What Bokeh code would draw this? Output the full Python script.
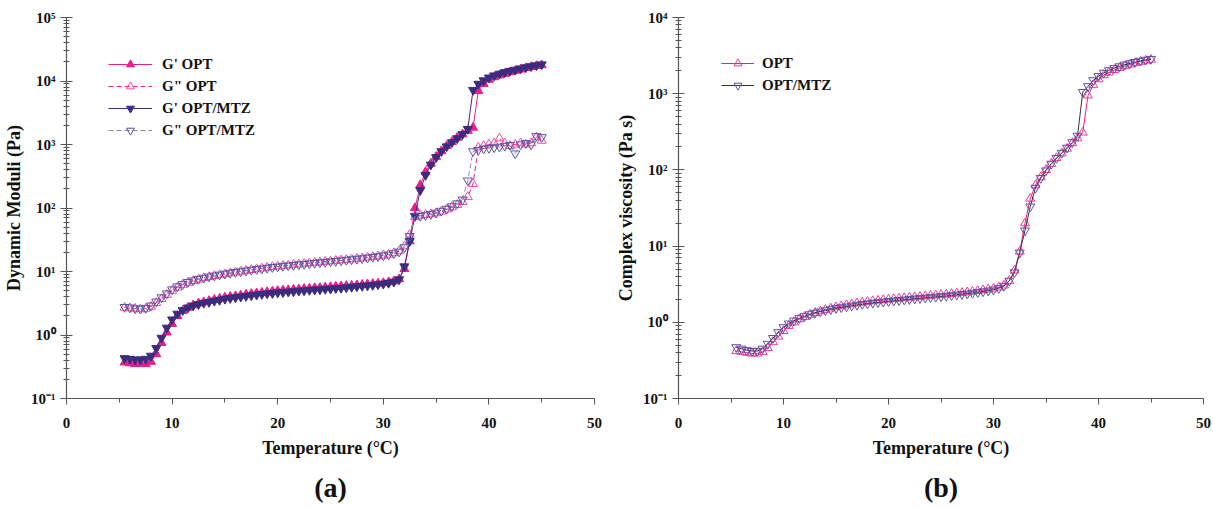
from bokeh.plotting import figure
from bokeh.layouts import row
from bokeh.models import Range1d, FixedTicker, Legend, LegendItem, Title
from bokeh.embed import file_html
from bokeh.resources import INLINE

# ---------------- data ----------------
temperature = [
    5.5, 6.0, 6.5, 7.0, 7.5, 8.0, 8.5, 9.0, 9.5, 10.0,
    10.5, 11.0, 11.5, 12.0, 12.5, 13.0, 13.5, 14.0, 14.5, 15.0,
    15.5, 16.0, 16.5, 17.0, 17.5, 18.0, 18.5, 19.0, 19.5, 20.0,
    20.5, 21.0, 21.5, 22.0, 22.5, 23.0, 23.5, 24.0, 24.5, 25.0,
    25.5, 26.0, 26.5, 27.0, 27.5, 28.0, 28.5, 29.0, 29.5, 30.0,
    30.5, 31.0, 31.5, 32.0, 32.5, 33.0, 33.5, 34.0, 34.5, 35.0,
    35.5, 36.0, 36.5, 37.0, 37.5, 38.0, 38.5, 39.0, 39.5, 40.0,
    40.5, 41.0, 41.5, 42.0, 42.5, 43.0, 43.5, 44.0, 44.5, 45.0,
]

g1_opt = [
    0.37, 0.36, 0.35, 0.35, 0.35, 0.38, 0.50, 0.75, 1.10, 1.50,
    2.00, 2.40, 2.70, 2.95, 3.15, 3.30, 3.45, 3.60, 3.75, 3.90,
    4.00, 4.10, 4.20, 4.35, 4.45, 4.55, 4.65, 4.75, 4.85, 4.95,
    5.05, 5.10, 5.20, 5.25, 5.35, 5.40, 5.50, 5.55, 5.65, 5.70,
    5.80, 5.85, 5.95, 6.00, 6.10, 6.20, 6.30, 6.40, 6.50, 6.60,
    6.80, 7.00, 7.60, 11.0, 30.0, 100, 230, 370, 500, 640,
    790, 950, 1100, 1280, 1450, 1650, 1850, 7000, 9000, 10500,
    11500, 12300, 13000, 13800, 14500, 15200, 16000, 16700, 17300, 17800,
]

g1_mtz = [
    0.43, 0.42, 0.41, 0.41, 0.42, 0.47, 0.62, 0.90, 1.30, 1.75,
    2.15, 2.45, 2.70, 2.90, 3.05, 3.20, 3.30, 3.45, 3.55, 3.70,
    3.80, 3.90, 4.00, 4.10, 4.20, 4.30, 4.40, 4.50, 4.55, 4.65,
    4.70, 4.80, 4.85, 4.95, 5.00, 5.10, 5.15, 5.20, 5.30, 5.35,
    5.45, 5.50, 5.60, 5.70, 5.80, 5.90, 6.00, 6.10, 6.25, 6.40,
    6.60, 6.90, 7.50, 12.0, 30.0, 75, 190, 330, 480, 630,
    780, 930, 1080, 1250, 1450, 1750, 7200, 9000, 10200, 11300,
    12200, 13000, 13700, 14400, 15000, 15700, 16400, 17000, 17600, 18200,
]

g2_opt = [
    2.70, 2.65, 2.60, 2.55, 2.60, 2.80, 3.20, 3.70, 4.30, 5.00,
    5.60, 6.20, 6.70, 7.10, 7.50, 7.90, 8.20, 8.50, 8.80, 9.10,
    9.40, 9.70, 10.0, 10.3, 10.6, 10.9, 11.2, 11.5, 11.8, 12.0,
    12.3, 12.5, 12.8, 13.0, 13.3, 13.5, 13.8, 14.0, 14.3, 14.5,
    14.8, 15.0, 15.3, 15.6, 15.9, 16.2, 16.6, 17.0, 17.4, 17.9,
    18.5, 19.5, 21.0, 25.0, 38.0, 72, 76, 78, 80, 83,
    88, 95, 103, 112, 125, 150, 240, 900, 950, 1000,
    1050, 1250, 1050, 950, 1000, 1050, 1000, 1050, 1300, 1150,
]

g2_mtz = [
    2.75, 2.70, 2.62, 2.58, 2.65, 2.90, 3.35, 3.90, 4.50, 5.20,
    5.80, 6.30, 6.80, 7.20, 7.60, 7.95, 8.30, 8.60, 8.90, 9.20,
    9.50, 9.80, 10.0, 10.3, 10.6, 10.9, 11.1, 11.4, 11.7, 11.9,
    12.2, 12.4, 12.6, 12.9, 13.1, 13.4, 13.6, 13.9, 14.1, 14.4,
    14.6, 14.9, 15.2, 15.5, 15.8, 16.1, 16.5, 16.9, 17.3, 17.8,
    18.4, 19.3, 20.5, 24.0, 36.0, 74, 75, 77, 80, 84,
    90, 97, 106, 118, 135, 270, 780, 820, 860, 880,
    900, 920, 950, 980, 720, 1000, 1050, 1000, 1350, 1300,
]

eta_opt = [
    0.42, 0.41, 0.40, 0.39, 0.39, 0.41, 0.46, 0.55, 0.65, 0.77,
    0.90, 1.00, 1.10, 1.18, 1.26, 1.33, 1.40, 1.46, 1.52, 1.58,
    1.63, 1.68, 1.73, 1.78, 1.82, 1.86, 1.90, 1.93, 1.96, 1.99,
    2.02, 2.05, 2.08, 2.11, 2.14, 2.17, 2.20, 2.23, 2.26, 2.29,
    2.32, 2.36, 2.40, 2.44, 2.48, 2.53, 2.58, 2.64, 2.70, 2.78,
    2.88, 3.05, 3.50, 4.80, 8.50, 20.0, 42.0, 63.0, 80.0, 100,
    120, 143, 165, 190, 225, 260, 310, 950, 1300, 1550,
    1750, 1900, 2050, 2180, 2300, 2420, 2530, 2630, 2720, 2800,
]

eta_mtz = [
    0.47, 0.45, 0.43, 0.42, 0.42, 0.45, 0.52, 0.62, 0.74, 0.86,
    0.96, 1.05, 1.13, 1.20, 1.27, 1.33, 1.38, 1.43, 1.48, 1.53,
    1.57, 1.61, 1.65, 1.69, 1.73, 1.76, 1.80, 1.83, 1.86, 1.89,
    1.92, 1.95, 1.98, 2.01, 2.04, 2.07, 2.10, 2.13, 2.16, 2.19,
    2.22, 2.26, 2.30, 2.34, 2.38, 2.43, 2.48, 2.54, 2.60, 2.68,
    2.80, 3.00, 3.50, 4.50, 8.20, 16.0, 33.0, 58.0, 78.0, 98.0,
    120, 143, 167, 195, 230, 280, 1050, 1250, 1500, 1700,
    1880, 2030, 2160, 2280, 2400, 2500, 2600, 2700, 2780, 2850,
]

x_ticks = [0, 10, 20, 30, 40, 50]
x_minor = [5, 15, 25, 35, 45]
labels_a = ["G' OPT", 'G" OPT', "G' OPT/MTZ", 'G" OPT/MTZ']
labels_b = ["OPT", "OPT/MTZ"]

SUP = {"-": "\u207b", "0": "\u2070", "1": "\u00b9", "2": "\u00b2", "3": "\u00b3",
       "4": "\u2074", "5": "\u2075"}

FONT = "Liberation Serif"
PINK = "#E91E8C"
NAVY = "#3B2C7E"
NAVY_OPEN = "#5E52A4"
LAV_LINE = "#8E86BC"
AXIS = "#555555"
MS = 9


def pow_label(e):
    return "10" + "".join(SUP[c] for c in str(e))


def style(p, exps, ylabel):
    p.outline_line_color = None
    p.grid.visible = False
    p.background_fill_color = "white"
    p.border_fill_color = "white"
    xa = p.xaxis[0]
    xa.ticker = FixedTicker(ticks=x_ticks, minor_ticks=x_minor)
    xa.axis_label = "Temperature (\u00b0C)"
    ya = p.yaxis[0]
    majors = [10.0 ** e for e in exps]
    minors = [k * 10.0 ** e for e in exps[:-1] for k in range(2, 10)]
    ya.ticker = FixedTicker(ticks=majors, minor_ticks=minors)
    ya.major_label_overrides = {10.0 ** e: pow_label(e) for e in exps}
    ya.axis_label = ylabel
    for ax in (xa, ya):
        ax.axis_line_color = AXIS
        ax.axis_line_width = 1.2
        ax.major_tick_line_color = AXIS
        ax.minor_tick_line_color = AXIS
        ax.major_label_text_font = FONT
        ax.major_label_text_font_style = "bold"
        ax.major_label_text_font_size = "15px"
        ax.major_label_text_color = "#111111"
        ax.axis_label_text_font = FONT
        ax.axis_label_text_font_style = "bold"
        ax.axis_label_text_font_size = "18px"
        ax.axis_label_text_color = "#111111"
    xa.major_tick_in = 0
    xa.major_tick_out = 6
    xa.minor_tick_in = 0
    xa.minor_tick_out = 4
    xa.major_label_standoff = 13
    xa.axis_label_standoff = 7
    ya.major_tick_in = 6
    ya.major_tick_out = 6
    ya.minor_tick_in = 3
    ya.minor_tick_out = 3
    ya.major_label_standoff = 5
    ya.axis_label_standoff = 4


def caption(p, text):
    t = Title(text=text, align="center", text_font=FONT, text_font_style="bold",
              text_font_size="28px", text_color="#111111", standoff=18)
    p.add_layout(t, "below")


# ---------------- panel (a) ----------------
pa = figure(frame_width=528, frame_height=381, output_backend="svg", toolbar_location=None,
            x_range=Range1d(0, 50), y_range=Range1d(0.1, 1e5), y_axis_type="log",
            min_border_left=66, min_border_right=19, min_border_top=17, min_border_bottom=109)
style(pa, [-1, 0, 1, 2, 3, 4, 5], "Dynamic Moduli (Pa)")

la1 = pa.line(temperature, g1_opt, line_color=PINK, line_width=1)
sa1 = pa.scatter(temperature, g1_opt, marker="triangle", size=MS, fill_color=PINK, line_color=PINK)
la2 = pa.line(temperature, g2_opt, line_color=PINK, line_width=1, line_dash="5 3")
sa2 = pa.scatter(temperature, g2_opt, marker="triangle", size=MS, fill_color=None, line_color="#F0509E")
la3 = pa.line(temperature, g1_mtz, line_color=NAVY, line_width=1)
sa3 = pa.scatter(temperature, g1_mtz, marker="inverted_triangle", size=MS, fill_color=NAVY, line_color=NAVY)
la4 = pa.line(temperature, g2_mtz, line_color=LAV_LINE, line_width=1, line_dash="5 3")
sa4 = pa.scatter(temperature, g2_mtz, marker="inverted_triangle", size=MS, fill_color=None, line_color=NAVY_OPEN)

leg_a = Legend(items=[
    LegendItem(label=labels_a[0], renderers=[la1, sa1]),
    LegendItem(label=labels_a[1], renderers=[la2, sa2]),
    LegendItem(label=labels_a[2], renderers=[la3, sa3]),
    LegendItem(label=labels_a[3], renderers=[la4, sa4]),
], location=(42, 258), glyph_width=44, glyph_height=20, label_height=20,
    label_standoff=10, spacing=2, padding=0, margin=0,
    border_line_color=None, background_fill_alpha=0,
    label_text_font=FONT, label_text_font_style="bold", label_text_font_size="15px",
    label_text_color="#111111")
pa.add_layout(leg_a, "center")
caption(pa, "(a)")

# ---------------- panel (b) ----------------
pb = figure(frame_width=525, frame_height=381, output_backend="svg", toolbar_location=None,
            x_range=Range1d(0, 50), y_range=Range1d(0.1, 1e4), y_axis_type="log",
            min_border_left=65, min_border_right=10, min_border_top=17, min_border_bottom=109)
style(pb, [-1, 0, 1, 2, 3, 4], "Complex viscosity (Pa s)")

lb1 = pb.line(temperature, eta_opt, line_color=PINK, line_width=1)
sb1 = pb.scatter(temperature, eta_opt, marker="triangle", size=MS, fill_color=None, line_color="#EE3D96")
lb2 = pb.line(temperature, eta_mtz, line_color="#333333", line_width=1)
sb2 = pb.scatter(temperature, eta_mtz, marker="inverted_triangle", size=MS, fill_color=None, line_color=NAVY_OPEN)

leg_b = Legend(items=[
    LegendItem(label=labels_b[0], renderers=[lb1, sb1]),
    LegendItem(label=labels_b[1], renderers=[lb2, sb2]),
], location=(43, 303), glyph_width=33, glyph_height=20, label_height=20,
    label_standoff=8, spacing=2, padding=0, margin=0,
    border_line_color=None, background_fill_alpha=0,
    label_text_font=FONT, label_text_font_style="bold", label_text_font_size="15px",
    label_text_color="#111111")
pb.add_layout(leg_b, "center")
caption(pb, "(b)")

layout = row(pa, pb)
open("out.html", "w").write(file_html(layout, INLINE))
